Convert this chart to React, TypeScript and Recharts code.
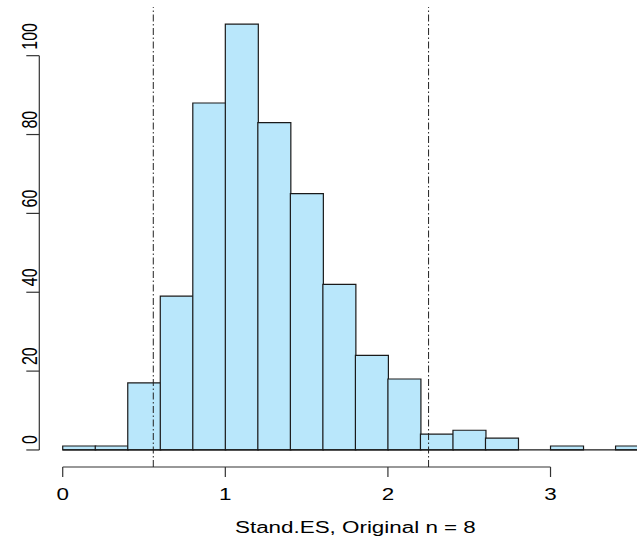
import React from "react";
import { ComposedChart, Bar, XAxis, YAxis, ReferenceLine } from "recharts";

// ---- data ----
const binStarts = [0, 0.2, 0.4, 0.6, 0.8, 1.0, 1.2, 1.4, 1.6, 1.8, 2.0, 2.2, 2.4, 2.6, 2.8, 3.0, 3.2, 3.4];
const counts = [1, 1, 17, 39, 88, 108, 83, 65, 42, 24, 18, 4, 5, 3, 0, 1, 0, 1];
const binWidth = 0.2;
const xTicks = [0, 1, 2, 3];
const yTicks = [0, 20, 40, 60, 80, 100];
const ciLines = [0.557, 2.25];
const xTitle = "Stand.ES, Original n = 8";

// axis ranges (R style: data range extended by 4%)
const X_MIN = -0.144;
const X_MAX = 3.744;
const Y_MIN = -4.32;
const Y_MAX = 112.32;

const data = binStarts.map((s, i) => ({
  bin: s.toFixed(1),
  mid: s + binWidth / 2,
  count: counts[i],
}));

// ---- layout ----
const CHART_W = 680;
const CHART_H = 539;
const MARGIN = { top: 7.1, right: 8.5, bottom: 0, left: 0 };
const YAXIS_W = 39.3;
const XAXIS_H = 72;
const plotW = CHART_W - MARGIN.left - MARGIN.right - YAXIS_W;
const pxPerUnit = plotW / (X_MAX - X_MIN);
const histEnd = binStarts[binStarts.length - 1] + binWidth;
const padL = (binStarts[0] - X_MIN) * pxPerUnit;
const padR = (X_MAX - histEnd) * pxPerUnit;

const FONT = "'Liberation Sans', Arial, Helvetica, sans-serif";
const STRETCH = 1.4;
const FS = 16;

const XTick = (props: any) => {
  const { x, y, payload } = props;
  return (
    <text
      transform={`translate(${x}, ${y + 21.3}) scale(${STRETCH},1)`}
      textAnchor="middle"
      fontFamily={FONT}
      fontSize={FS}
      fill="#000"
    >
      {payload.value}
    </text>
  );
};

const YTick = (props: any) => {
  const { x, y, payload } = props;
  return (
    <text
      transform={`translate(${x + 12.4}, ${y - 6}) scale(${STRETCH},1) rotate(-90)`}
      textAnchor="start"
      fontFamily={FONT}
      fontSize={FS}
      fill="#000"
    >
      {payload.value}
    </text>
  );
};

const TitleLabel = (props: any) => {
  const vb = props.viewBox || { x: 0, y: 0, width: 0, height: 0 };
  const cx = vb.x + vb.width / 2;
  return (
    <text
      transform={`translate(${cx}, ${vb.y + 66.3}) scale(${STRETCH},1)`}
      textAnchor="middle"
      fontFamily={FONT}
      fontSize={FS}
      fill="#000"
    >
      {xTitle}
    </text>
  );
};

export default function App() {
  return (
    <div
      style={{
        position: "absolute",
        left: 0,
        top: 0,
        width: 637,
        height: 539,
        overflow: "hidden",
        background: "#fff",
      }}
    >
      <ComposedChart
        width={CHART_W}
        height={CHART_H}
        data={data}
        margin={MARGIN}
        barCategoryGap={0}
        barGap={0}
      >
        <XAxis
          xAxisId="num"
          dataKey="mid"
          type="number"
          domain={[X_MIN, X_MAX]}
          allowDataOverflow
          ticks={xTicks}
          axisLine={false}
          tickLine={{ stroke: "#333", strokeWidth: 1.2 }}
          tickSize={10}
          height={XAXIS_H}
          tick={<XTick />}
          interval={0}
          label={<TitleLabel />}
        />
        <XAxis
          xAxisId="cat"
          dataKey="bin"
          type="category"
          orientation="top"
          height={0}
          hide
          padding={{ left: padL, right: padR }}
        />
        <YAxis
          type="number"
          domain={[Y_MIN, Y_MAX]}
          allowDataOverflow
          ticks={yTicks}
          width={YAXIS_W}
          axisLine={false}
          tickLine={{ stroke: "#333", strokeWidth: 1.2 }}
          tickSize={13}
          tick={<YTick />}
          interval={0}
        />
        <Bar
          xAxisId="cat"
          dataKey="count"
          fill="#B9E7FB"
          stroke="#1a1a1a"
          strokeWidth={1.2}
          isAnimationActive={false}
        />
        <ReferenceLine
          xAxisId="num"
          segment={[
            { x: binStarts[0], y: 0 },
            { x: histEnd, y: 0 },
          ]}
          stroke="#1a1a1a"
          strokeWidth={1.2}
          ifOverflow="visible"
        />
        <ReferenceLine
          xAxisId="num"
          segment={[
            { x: X_MIN, y: yTicks[0] },
            { x: X_MIN, y: yTicks[yTicks.length - 1] },
          ]}
          stroke="#333"
          strokeWidth={1.2}
          ifOverflow="visible"
        />
        <ReferenceLine
          xAxisId="num"
          segment={[
            { x: xTicks[0], y: Y_MIN },
            { x: xTicks[xTicks.length - 1], y: Y_MIN },
          ]}
          stroke="#333"
          strokeWidth={1.2}
          ifOverflow="visible"
        />
        {ciLines.map((v) => (
          <ReferenceLine
            key={v}
            xAxisId="num"
            x={v}
            stroke="#222"
            strokeWidth={1}
            strokeDasharray="7 2.5 1.5 2.5"
          />
        ))}
      </ComposedChart>
    </div>
  );
}
